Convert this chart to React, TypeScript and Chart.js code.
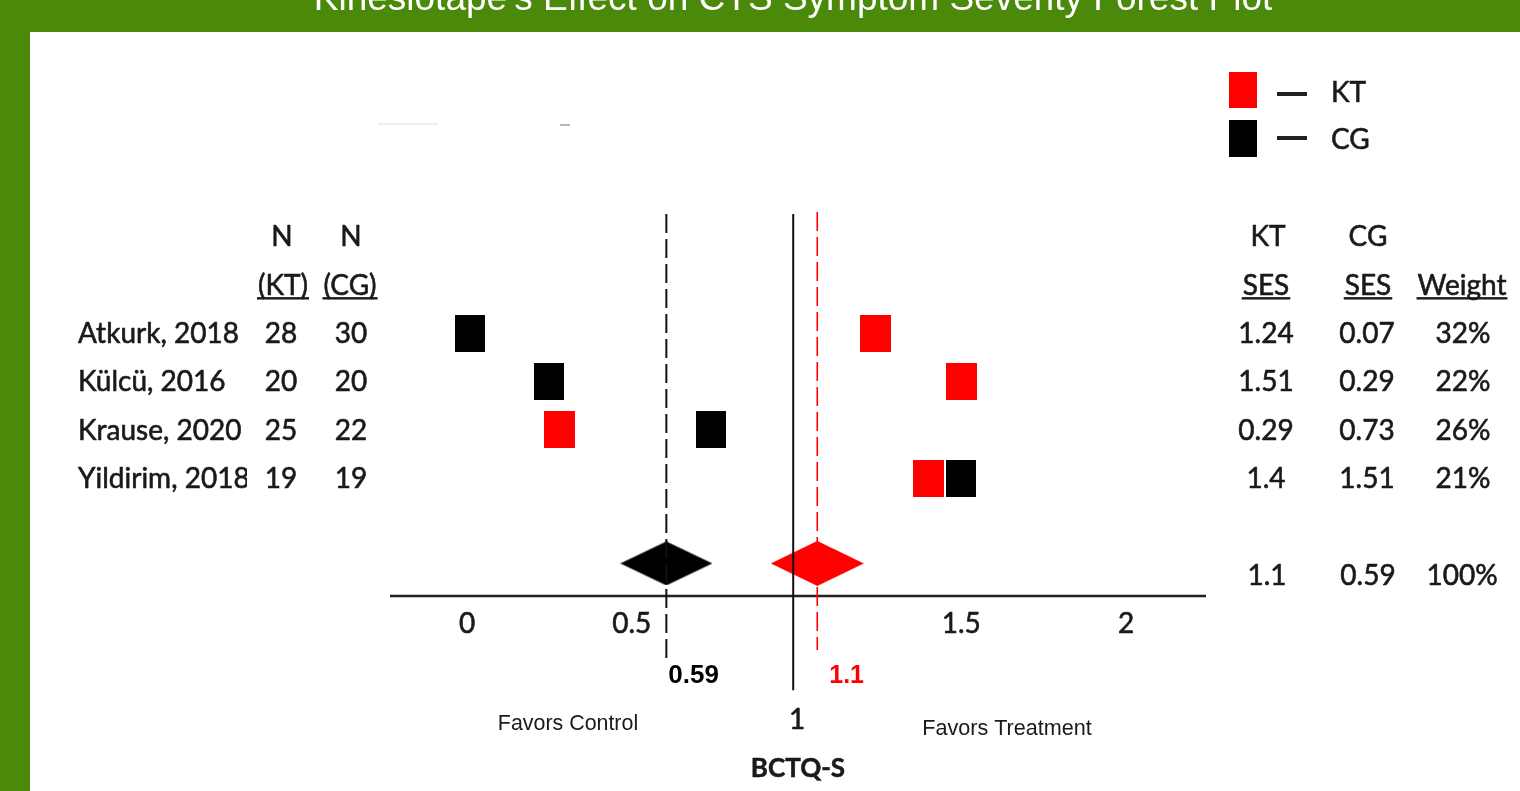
import React, { useEffect, useRef } from 'react';
import { Chart, registerables } from 'chart.js';

Chart.register(...registerables);

// ---------------- data ----------------
const studies = ['Atkurk, 2018', 'Külcü, 2016', 'Krause, 2020', 'Yildirim, 2018'];
const nKT = ['28', '20', '25', '19'];
const nCG = ['30', '20', '22', '19'];
const sesKT = ['1.24', '1.51', '0.29', '1.4'];
const sesCG = ['0.07', '0.29', '0.73', '1.51'];
const weights = ['32%', '22%', '26%', '21%'];
const summaryKT = '1.1';
const summaryCG = '0.59';
const summaryWeight = '100%';
// marker positions as drawn in the picture (x = effect size)
const ktPos = [1.24, 1.5, 0.28, 1.4];
const cgPos = [0.01, 0.25, 0.74, 1.5];
const ktSummaryPos = 1.063;
const cgSummaryPos = 0.605;
const refLinePos = 0.99;
const xTicks = [0, 0.5, 1.5, 2];
const xTickLabels = ['0', '0.5', '1.5', '2'];
const titleText = "Kinesiotape's Effect on CTS Symptom Severity Forest Plot";

const RED = '#ff0000';
const BLACK = '#000000';
const TEXT = '#1a1a1a';
const GREEN = '#4a890a';

function makeRect(w: number, h: number, color: string) {
  const c = document.createElement('canvas');
  c.width = w;
  c.height = h;
  const g = c.getContext('2d')!;
  g.fillStyle = color;
  g.fillRect(0, 0, w, h);
  return c;
}
function makeDiamond(w: number, h: number, color: string) {
  const c = document.createElement('canvas');
  c.width = w;
  c.height = h;
  const g = c.getContext('2d')!;
  g.fillStyle = color;
  g.beginPath();
  g.moveTo(w / 2, 0);
  g.lineTo(w, h / 2);
  g.lineTo(w / 2, h);
  g.lineTo(0, h / 2);
  g.closePath();
  g.fill();
  return c;
}

function txt(
  ctx: CanvasRenderingContext2D,
  s: string,
  x: number,
  yc: number,
  size: number,
  family: string,
  align: CanvasTextAlign = 'center',
  color = TEXT,
  weight = 'normal',
  underline = false,
  stroke = 0
) {
  ctx.save();
  ctx.font = `${weight} ${size}px ${family}`;
  ctx.textAlign = align;
  ctx.textBaseline = 'alphabetic';
  ctx.fillStyle = color;
  const base = yc + size * 0.358;
  ctx.fillText(s, x, base);
  if (stroke > 0) {
    ctx.strokeStyle = color;
    ctx.lineWidth = stroke;
    ctx.lineJoin = 'round';
    ctx.strokeText(s, x, base);
  }
  if (underline) {
    const w = ctx.measureText(s).width;
    let x0 = x;
    if (align === 'center') x0 = x - w / 2;
    else if (align === 'right') x0 = x - w;
    ctx.fillRect(x0 - 1, base + 2.5, w + 2, 2.4);
  }
  ctx.restore();
}

const LATO = 'Lato, "Noto Sans", sans-serif';
const ARIAL = '"Liberation Sans", Arial, sans-serif';
const T = (
  ctx: CanvasRenderingContext2D,
  s: string,
  x: number,
  yc: number,
  align: CanvasTextAlign = 'center',
  underline = false
) => txt(ctx, s, x, yc, 28, LATO, align, TEXT, 'normal', underline, 0.6);

const decorPlugin = {
  id: 'decor',
  beforeDraw(chart: any) {
    const ctx: CanvasRenderingContext2D = chart.ctx;
    const W = chart.width;
    const H = chart.height;
    ctx.save();
    ctx.fillStyle = GREEN;
    ctx.fillRect(0, 0, W, H);
    ctx.fillStyle = '#ffffff';
    ctx.fillRect(30, 32, W - 30, H - 32);
    // title (partially cut off at top)
    ctx.font = `normal 37px ${ARIAL}`;
    ctx.fillStyle = '#ffffff';
    ctx.textAlign = 'center';
    ctx.textBaseline = 'alphabetic';
    ctx.fillText(titleText, 793, 10);
    // faint artifacts
    ctx.fillStyle = '#eeeeee';
    ctx.fillRect(378, 123, 60, 2);
    ctx.fillStyle = '#b8b8b8';
    ctx.fillRect(560, 124, 10, 2);
    ctx.restore();
  },
  beforeDatasetsDraw(chart: any) {
    const ctx: CanvasRenderingContext2D = chart.ctx;
    const a = chart.chartArea;
    ctx.save();
    ctx.strokeStyle = '#222222';
    ctx.lineWidth = 2.6;
    ctx.beginPath();
    ctx.moveTo(a.left, a.bottom);
    ctx.lineTo(a.right, a.bottom);
    ctx.stroke();
    ctx.restore();
  },
  afterDraw(chart: any) {
    const ctx: CanvasRenderingContext2D = chart.ctx;
    const xs = chart.scales.x;
    const ys = chart.scales.y;
    const rowY = (i: number) => ys.getPixelForValue(i);

    // tick labels
    xTicks.forEach((v, i) => {
      T(ctx, xTickLabels[i], xs.getPixelForValue(v), 623);
    });

    // left table
    T(ctx, 'N', 282, rowY(-2));
    T(ctx, 'N', 351, rowY(-2));
    T(ctx, '(KT)', 283, rowY(-1), 'center', true);
    T(ctx, '(CG)', 350, rowY(-1), 'center', true);
    studies.forEach((s, i) => {
      // study column is clipped at its right edge, as in the original table
      ctx.save();
      ctx.beginPath();
      ctx.rect(60, rowY(i) - 30, 187, 60);
      ctx.clip();
      T(ctx, s, 78, rowY(i), 'left');
      ctx.restore();
      T(ctx, nKT[i], 281, rowY(i));
      T(ctx, nCG[i], 351, rowY(i));
    });

    // right table
    T(ctx, 'KT', 1268, rowY(-2));
    T(ctx, 'CG', 1368, rowY(-2));
    T(ctx, 'SES', 1266, rowY(-1), 'center', true);
    T(ctx, 'SES', 1368, rowY(-1), 'center', true);
    T(ctx, 'Weight', 1462, rowY(-1), 'center', true);
    studies.forEach((_, i) => {
      T(ctx, sesKT[i], 1266, rowY(i));
      T(ctx, sesCG[i], 1367, rowY(i));
      T(ctx, weights[i], 1463, rowY(i));
    });
    T(ctx, summaryKT, 1267, rowY(5));
    T(ctx, summaryCG, 1368, rowY(5));
    T(ctx, summaryWeight, 1462, rowY(5));

    // summary labels under the axis
    txt(ctx, summaryCG, xs.getPixelForValue(cgSummaryPos) + 2, 674, 26, ARIAL, 'left', BLACK, 'bold');
    txt(ctx, summaryKT, xs.getPixelForValue(ktSummaryPos) + 12, 674, 25, ARIAL, 'left', RED, 'bold');

    T(ctx, '1', 797, 719);
    txt(ctx, 'Favors Control', 568, 722, 21.4, ARIAL);
    txt(ctx, 'Favors Treatment', 1007, 727, 21.6, ARIAL);
    txt(ctx, 'BCTQ-S', 798, 768, 26, LATO, 'center', TEXT, 'bold', false, 0.5);

    // legend
    ctx.save();
    ctx.fillStyle = RED;
    ctx.fillRect(1229, 72, 28, 36);
    ctx.fillStyle = BLACK;
    ctx.fillRect(1229, 120, 28, 37);
    ctx.fillStyle = '#222222';
    ctx.fillRect(1277, 92, 30, 4);
    ctx.fillRect(1277, 136, 30, 4);
    ctx.restore();
    T(ctx, 'KT', 1331, 92, 'left');
    T(ctx, 'CG', 1331, 139, 'left');
  },
};

export default function App() {
  const ref = useRef<HTMLCanvasElement | null>(null);

  useEffect(() => {
    if (!ref.current) return;
    const redSq = makeRect(31, 37, RED);
    const blackSq = makeRect(30, 37, BLACK);
    const redDia = makeDiamond(93, 45, RED);
    const blackDia = makeDiamond(92, 44, BLACK);

    const rows = studies.map((_, i) => i);
    const diamondRow = 4.76;

    const chart = new Chart(ref.current, {
      type: 'scatter',
      data: {
        datasets: [
          {
            label: 'ref',
            type: 'line',
            data: [
              { x: refLinePos, y: -2.46 },
              { x: refLinePos, y: 7.38 },
            ],
            borderColor: '#111111',
            borderWidth: 2,
            pointRadius: 0,
            showLine: true,
            clip: false,
          } as any,
          {
            label: 'cgLine',
            type: 'line',
            data: [
              { x: cgSummaryPos, y: -2.46 },
              { x: cgSummaryPos, y: 6.72 },
            ],
            borderColor: '#111111',
            borderWidth: 2,
            borderDash: [19, 6],
            pointRadius: 0,
            showLine: true,
            clip: false,
          } as any,
          {
            label: 'ktLine',
            type: 'line',
            data: [
              { x: ktSummaryPos, y: -2.5 },
              { x: ktSummaryPos, y: 6.55 },
            ],
            borderColor: RED,
            borderWidth: 1.6,
            borderDash: [19, 6],
            pointRadius: 0,
            showLine: true,
            clip: false,
          } as any,
          {
            label: 'KT',
            data: rows.map((i) => ({ x: ktPos[i], y: i })),
            pointStyle: redSq as any,
            pointRadius: 12,
            clip: false,
          } as any,
          {
            label: 'CG',
            data: rows.map((i) => ({ x: cgPos[i], y: i })),
            pointStyle: blackSq as any,
            pointRadius: 12,
            clip: false,
          } as any,
          {
            label: 'KT summary',
            data: [{ x: ktSummaryPos, y: diamondRow }],
            pointStyle: redDia as any,
            pointRadius: 20,
            clip: false,
          } as any,
          {
            label: 'CG summary',
            data: [{ x: cgSummaryPos, y: diamondRow }],
            pointStyle: blackDia as any,
            pointRadius: 20,
            clip: false,
          } as any,
        ],
      },
      options: {
        responsive: false,
        maintainAspectRatio: false,
        animation: false,
        devicePixelRatio: 1,
        layout: { padding: { left: 390, right: 314, top: 200, bottom: 195 } },
        plugins: { legend: { display: false }, tooltip: { enabled: false }, title: { display: false } },
        scales: {
          x: { type: 'linear', min: -0.2337, max: 2.2428, display: false },
          y: { type: 'linear', min: -2.748, max: 5.434, reverse: true, display: false },
        },
      },
      plugins: [decorPlugin as any],
    });
    return () => chart.destroy();
  }, []);

  return (
    <div style={{ position: 'fixed', left: 0, top: 0, width: 1520, height: 791, overflow: 'hidden' }}>
      <canvas ref={ref} width={1520} height={791} style={{ display: 'block', width: 1520, height: 791 }} />
    </div>
  );
}
